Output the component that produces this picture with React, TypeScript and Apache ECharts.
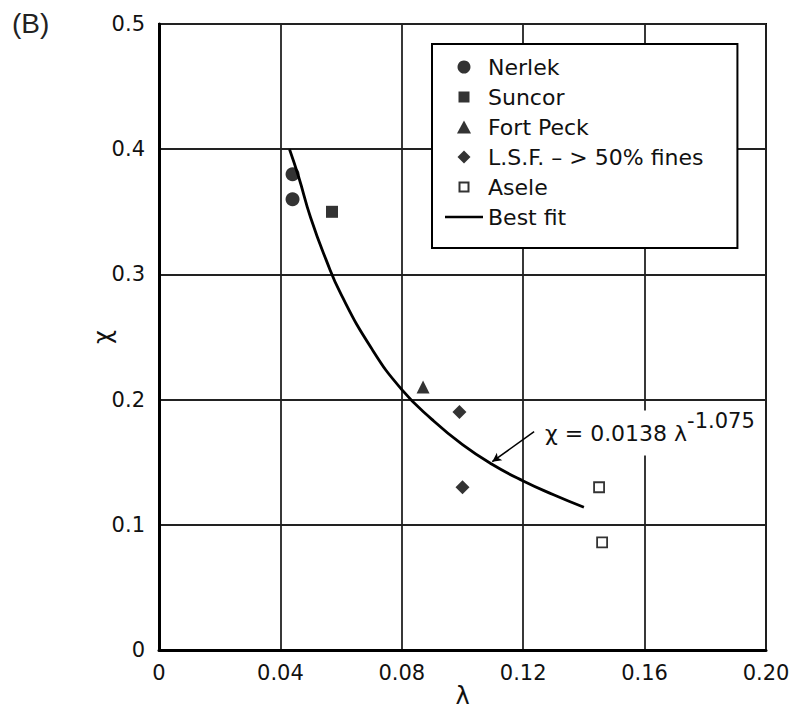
import React, { useEffect, useRef } from 'react';
import * as echarts from 'echarts';

const xTickLabels = ['0', '0.04', '0.08', '0.12', '0.16', '0.20'];
const yTickLabels = ['0', '0.1', '0.2', '0.3', '0.4', '0.5'];

const nerlek = [[0.044, 0.38], [0.044, 0.36]];
const suncor = [[0.057, 0.35]];
const fortPeck = [[0.087, 0.21]];
const lsf = [[0.099, 0.19], [0.1, 0.13]];
const asele = [[0.145, 0.13], [0.146, 0.086]];
const bestFit = [
  [0.043, 0.4], [0.046, 0.378], [0.05, 0.345], [0.055, 0.312], [0.06, 0.284],
  [0.07, 0.241], [0.08, 0.208], [0.09, 0.184], [0.1, 0.164], [0.11, 0.148],
  [0.12, 0.135], [0.13, 0.124], [0.14, 0.114],
];

const seriesNames = ['Nerlek', 'Suncor', 'Fort Peck', 'L.S.F. – > 50% fines', 'Asele', 'Best fit'];
const legendIcons = [
  'circle',
  'path://M0,0M13,13M1,1H12V12H1Z',
  'path://M6.5,0L13,12H0Z',
  'path://M6.5,0L13,6.5L6.5,13L0,6.5Z',
  'path://M0,0M13,13M2,2H11V11H2Z',
  'path://M0,0H38V2.5H0Z',
];
const fitLabel = 'χ = 0.0138 λ';
const fitExponent = '-1.075';
const arrowFrom = [0.1236, 0.1744];
const arrowTo = [0.1098, 0.1504];

const FONT = 'DejaVu Sans';

export default function App() {
  const ref = useRef<HTMLDivElement>(null);
  useEffect(() => {
    document.body.style.margin = '0';
    const chart = echarts.init(ref.current!, null, { renderer: 'svg' });
    const black = { color: '#000' };
    chart.setOption({
      animation: false,
      backgroundColor: '#fff',
      textStyle: { fontFamily: FONT, color: '#111' },
      grid: { left: 159, right: 29, top: 24, bottom: 69, show: true, borderColor: '#000', borderWidth: 2 },
      legend: {
        left: 432,
        top: 44,
        orient: 'vertical',
        itemWidth: 38,
        itemHeight: 13,
        itemGap: 8,
        padding: [12, 34, 20, 13],
        backgroundColor: '#fff',
        borderColor: '#000',
        borderWidth: 2,
        selectedMode: false,
        symbolKeepAspect: true,
        textStyle: { fontSize: 22, color: '#111', fontFamily: FONT },
        data: seriesNames.map((name, i) => ({ name, icon: legendIcons[i] })),
      },
      xAxis: {
        type: 'value',
        min: 0,
        max: 0.2,
        interval: 0.04,
        axisLine: { show: true, lineStyle: { color: '#000', width: 3 } },
        axisTick: { show: false },
        splitLine: { show: true, lineStyle: { color: '#222', width: 1.8 } },
        axisLabel: {
          margin: 12,
          fontSize: 21,
          color: '#111',
          fontFamily: FONT,
          formatter: (v: number) => xTickLabels[Math.round(v / 0.04)] ?? '',
        },
        name: 'λ',
        nameLocation: 'middle',
        nameGap: 34,
        nameMoveOverlap: false,
        nameTextStyle: { fontSize: 24, color: '#111', fontFamily: FONT },
      },
      yAxis: {
        type: 'value',
        min: 0,
        max: 0.5,
        interval: 0.1,
        axisLine: { show: true, lineStyle: { color: '#000', width: 3 } },
        axisTick: { show: false },
        splitLine: { show: true, lineStyle: { color: '#222', width: 1.8 } },
        axisLabel: {
          margin: 14,
          fontSize: 21,
          color: '#111',
          fontFamily: FONT,
          formatter: (v: number) => yTickLabels[Math.round(v / 0.1)] ?? '',
        },
        name: 'χ',
        nameLocation: 'middle',
        nameGap: 44,
        nameMoveOverlap: false,
        nameTextStyle: { fontSize: 24, color: '#111', fontFamily: FONT },
      },
      graphic: [
        {
          type: 'text',
          left: 12,
          top: 9,
          style: { text: '(B)', fontSize: 28, fill: '#222', fontFamily: 'Liberation Sans' },
        },
        {
          type: 'text',
          x: 543,
          y: 433,
          z: 10,
          style: {
            text: `{a|${fitLabel}}{b|${fitExponent}}`,
            verticalAlign: 'middle',
            fill: '#111',
            fontFamily: FONT,
            backgroundColor: '#fff',
            padding: [0, 2],
            rich: {
              a: { fontSize: 22, fontFamily: FONT, fill: '#111' },
              b: { fontSize: 21, fontFamily: FONT, fill: '#111', padding: [0, 0, 24, 0] },
            },
          },
        },
      ],
      series: [
        { name: seriesNames[0], type: 'scatter', data: nerlek, symbol: 'circle', symbolSize: 14, itemStyle: black, z: 3 },
        { name: seriesNames[1], type: 'scatter', data: suncor, symbol: 'rect', symbolSize: 12, itemStyle: black, z: 3 },
        { name: seriesNames[2], type: 'scatter', data: fortPeck, symbol: 'triangle', symbolSize: 13, itemStyle: black, z: 3 },
        { name: seriesNames[3], type: 'scatter', data: lsf, symbol: 'diamond', symbolSize: 14, itemStyle: black, z: 3 },
        {
          name: seriesNames[4], type: 'scatter', data: asele, symbol: 'rect', symbolSize: 10,
          itemStyle: { color: '#fff', borderColor: '#000', borderWidth: 1.8 }, z: 3,
        },
        {
          name: seriesNames[5],
          type: 'line',
          data: bestFit,
          smooth: true,
          symbol: 'none',
          lineStyle: { color: '#000', width: 2.8 },
          itemStyle: { color: '#000' },
          z: 2,
          markLine: {
            silent: true,
            symbol: ['none', 'arrow'],
            symbolSize: [7, 9],
            lineStyle: { color: '#000', width: 1.5, type: 'solid' },
            label: { show: false },
            data: [[{ coord: arrowFrom }, { coord: arrowTo }]],
          },
        },
      ],
    });
    return () => chart.dispose();
  }, []);
  return <div ref={ref} style={{ width: 795, height: 719 }} />;
}
